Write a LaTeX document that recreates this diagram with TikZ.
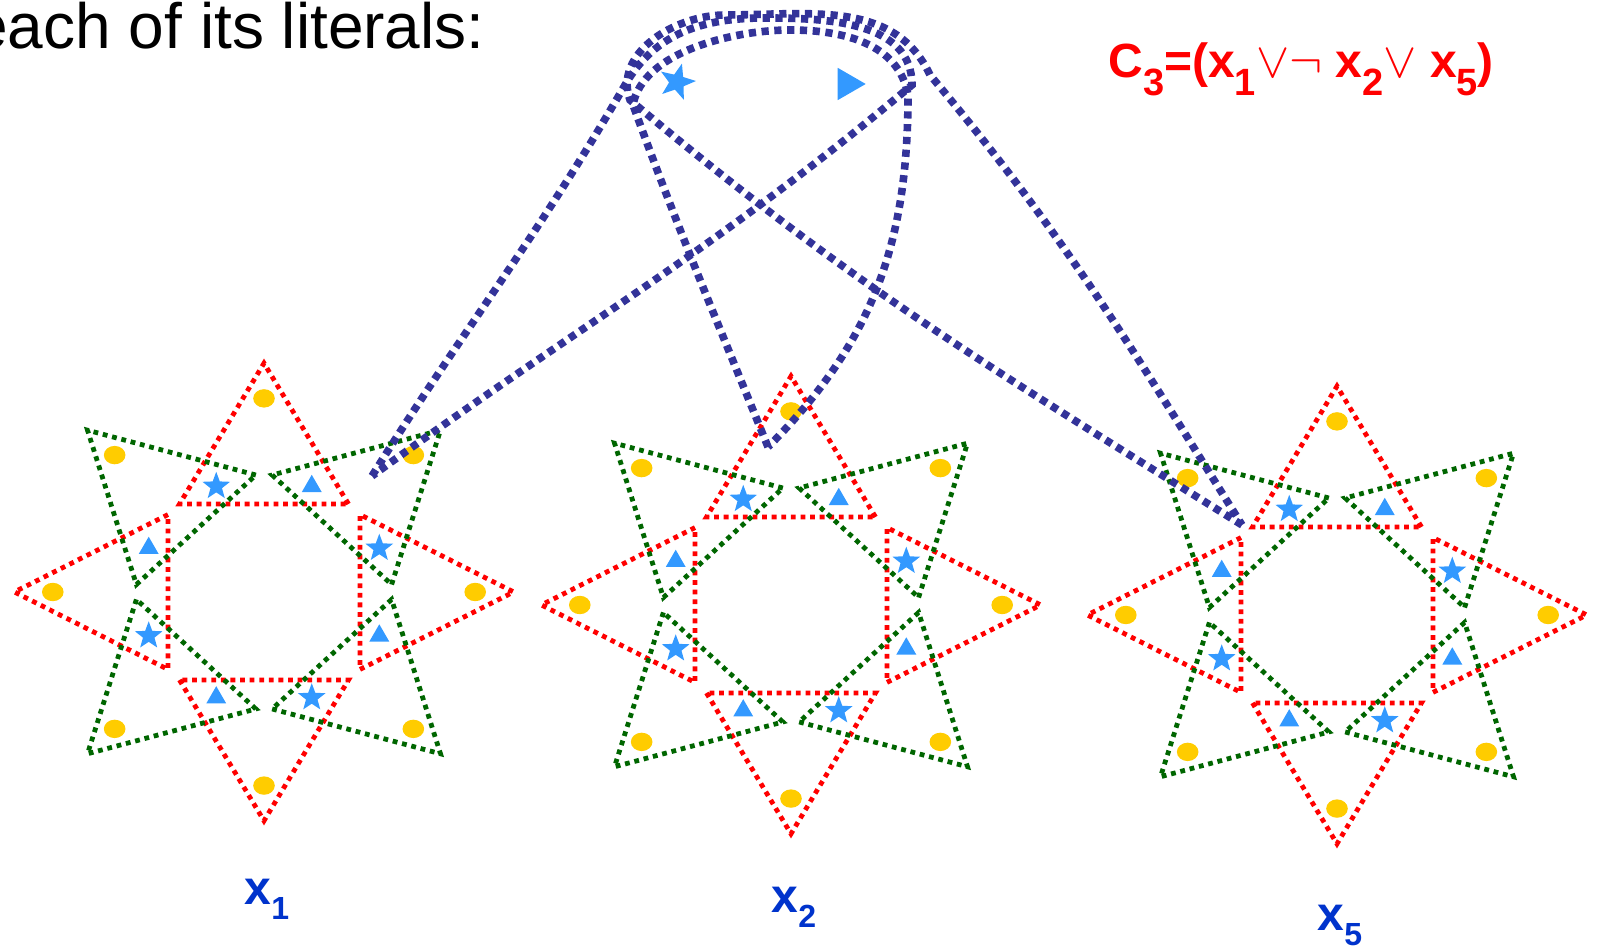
\documentclass[tikz,border=0pt]{standalone}
\usepackage{fontspec}
\setmainfont{Liberation Sans}
\usetikzlibrary{shapes.geometric}

\definecolor{redtricolor}{RGB}{255,0,0}
\definecolor{greentricolor}{RGB}{0,102,0}
\definecolor{dotcolor}{RGB}{255,204,0}
\definecolor{markcolor}{RGB}{51,153,255}
\definecolor{loopcolor}{RGB}{51,51,153}
\definecolor{varcolor}{RGB}{0,51,204}
\definecolor{clausecolor}{RGB}{255,0,0}

\tikzset{
  redtri/.style={draw=redtricolor, line width=2.4pt, dash pattern=on 2.4pt off 2.4pt},
  greentri/.style={draw=greentricolor, line width=2.4pt, dash pattern=on 2.4pt off 2.4pt},
  linkline/.style={draw=loopcolor, line width=3.8pt, dash pattern=on 3.6pt off 2.8pt},
  markstar/.style={star, star points=5, star point ratio=2.4, fill=markcolor, inner sep=0pt, minimum size=14.5pt},
  marktri/.style={regular polygon, regular polygon sides=3, fill=markcolor, inner sep=0pt, minimum size=11.5pt},
  varlabel/.style={text=varcolor, font=\fontsize{24}{28}\selectfont\bfseries, inner sep=0pt}
}

% lowered index: drop, size, text
\newcommand{\low}[3]{\raisebox{-#1}{\fontsize{#2}{#2}\selectfont #3}}
% thin logic sign
\newcommand{\logsym}[1]{{\fontsize{30}{30}\selectfont$#1$}}

% variable gadget: center x, center y, name, label baseline, index
\newcommand{\gadget}[5]{%
  \begin{scope}[shift={(#1,#2)}, x=48pt, y=44pt]
    \foreach \a in {0,90,180,270}
      \draw[redtri] (\a-41.35:1.332) -- (\a:2.6) -- (\a+41.35:1.332) -- cycle;
    \foreach \a in {45,135,225,315}
      \draw[greentri] (\a-41.35:1.332) -- (\a:2.6) -- (\a+41.35:1.332) -- cycle;
    \foreach \a in {0,45,...,315}
      \fill[dotcolor] (\a:2.2) ellipse (5.4pt and 4.6pt);
    \foreach \a [count=\i] in {22.5,112.5,202.5,292.5}
      \node[markstar] (#3-s\i) at (\a:1.3) {};
    \foreach \a [count=\i] in {67.5,157.5,247.5,337.5}
      \node[marktri] (#3-t\i) at (\a:1.3) {};
  \end{scope}
  \node[varlabel, anchor=base] (#3-label) at (#1+3,#4) {x\low{7.5pt}{16}{#5}};
}

\begin{document}
\begin{tikzpicture}[x=0.5pt, y=0.5pt]
    \clip (0,0) rectangle (1608,952);
    % Heading, cut by the frame
    \node[anchor=base west, font=\fontsize{32}{38}\selectfont, inner sep=0pt] (heading) at (-28,903) {each of its literals:};
    % Clause
    \node[anchor=base west, text=clausecolor, font=\fontsize{24}{28}\selectfont\bfseries, inner sep=0pt] (clause) at (1108,874)
      {C\low{9pt}{19}{3}=(x\low{9pt}{19}{1}\logsym{\vee\neg}\ x\low{9pt}{19}{2}\logsym{\vee}\ x\low{9pt}{19}{5})};
    % Variable gadgets
    \gadget{264}{360}{g1}{47}{1}
    \gadget{791}{347}{g2}{39}{2}
    \gadget{1337}{337}{g5}{21}{5}
    % Clause gadget
    \node[markstar, minimum size=19pt, shape border rotate=-15] (cstar) at (677,870) {};
    \node[marktri, minimum size=18.7pt, shape border rotate=-90] (ctri) at (847,868) {};
    % Loop ends
    \coordinate (t1) at (372,476);
    \coordinate (l1) at (625,867);
    \coordinate (top1) at (765,934);
    \coordinate (r1) at (912,867);
    \coordinate (t2) at (768,505);
    \coordinate (l2) at (633,847);
    \coordinate (top2) at (790,922);
    \coordinate (r2) at (908,857);
    \coordinate (t5) at (1242,427);
    \coordinate (l5) at (630,852);
    \coordinate (top5) at (725,937);
    \coordinate (r5) at (930,877);
    % Loops
    \draw[linkline] (t1) to[out=58, in=-120] (l1) to[out=60, in=180] (top1)
      to[out=0, in=90] (r1) to[out=-140, in=36] (t1);
    \draw[linkline] (t2) to[out=112, in=-70] (l2) to[out=80, in=180, looseness=0.8] (top2)
      to[out=0, in=100] (r2) to[out=-90, in=45] (t2);
    \draw[linkline] (t5) to[out=148, in=-40] (l5) to[out=110, in=180] (top5)
      to[out=0, in=115] (r5) to[out=-50, in=122] (t5);
\end{tikzpicture}
\end{document}
